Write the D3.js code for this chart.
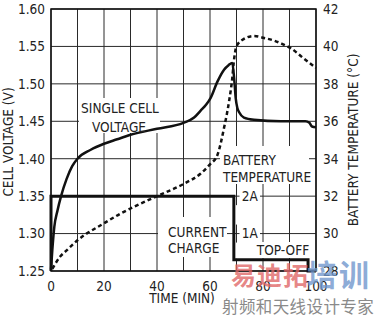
<!DOCTYPE html>
<html>
<head>
<meta charset="utf-8">
<script src="https://cdn.jsdelivr.net/npm/d3@7"></script>
<style>
  body { margin: 0; background: #fff; }
  svg { display: block; }
  text { font-family: "Liberation Sans Narrow", "Arial Narrow", "DejaVu Sans Condensed", sans-serif; font-size: 13.5px; fill: #222; }
  text.cjk { font-family: "Noto Sans CJK SC", sans-serif; }
</style>
</head>
<body>
<svg id="chart" width="377" height="318"></svg>
<script>
// cell voltage (V) vs time (min)
var voltTime = [0, 0.5, 1.25, 2.4, 3.8, 5.9, 8, 10, 15, 20, 25, 30, 40, 50, 54, 56.4, 58.5, 60.2, 62.8, 65.3, 67, 68.4, 69.1, 69.7, 70.3, 71, 72.8, 76.6, 86.7, 96, 97.5, 98.5, 100];
var voltage  = [1.252, 1.278, 1.309, 1.33, 1.35, 1.373, 1.39, 1.40, 1.412, 1.42, 1.426, 1.432, 1.44, 1.448, 1.455, 1.464, 1.472, 1.481, 1.503, 1.519, 1.525, 1.528, 1.508, 1.481, 1.468, 1.462, 1.455, 1.452, 1.45, 1.45, 1.448, 1.443, 1.442];

// battery temperature (°C) vs time (min)
var tempTime    = [0.5, 3.4, 5.9, 10, 20, 26, 30, 40, 50, 56.4, 60, 62.8, 65.3, 67.2, 68.4, 69, 70, 72.8, 76.6, 80.4, 84, 87, 90.5, 95, 100];
var temperature = [28.12, 28.76, 29.1, 29.64, 30.55, 31.05, 31.34, 32.0, 32.65, 33.2, 33.7, 34.2, 35.65, 37.07, 38.3, 39.2, 40.0, 40.4, 40.56, 40.45, 40.32, 40.15, 39.9, 39.4, 38.85];

// charge current (A) vs time (min)
var currentTime = [0, 0, 69, 69, 97, 97, 100];
var current     = [0, 2, 2, 0.3, 0.3, 0, 0];

var timeTicks = [0, 20, 40, 60, 80, 100];
var timeGrid = [0, 10, 20, 30, 40, 50, 60, 70, 80, 90, 100];
var voltTicks = [1.25, 1.30, 1.35, 1.40, 1.45, 1.50, 1.55, 1.60];
var tempTicks = [28, 30, 32, 34, 36, 38, 40, 42];
var currentTicks = [1, 2];

var svg = d3.select('#chart');

var x = d3.scaleLinear().domain([0, 100]).range([51, 316]);
var yVolt = d3.scaleLinear().domain([1.25, 1.60]).range([271, 9]);
var yTemp = d3.scaleLinear().domain([28, 42]).range([271, 9]);
var yCur = d3.scaleLinear().domain([0, 2]).range([271, yVolt(1.35)]);

var x0 = x(0), x1 = x(100), y0 = yVolt(1.25), y1 = yVolt(1.60);

// grid
var grid = svg.append('g').attr('stroke', '#2a2a2a').attr('stroke-width', 1);
grid.selectAll('line.v').data(timeGrid).enter().append('line')
  .attr('class', 'v')
  .attr('x1', function(d) { return x(d); })
  .attr('x2', function(d) { return x(d); })
  .attr('y1', y1).attr('y2', y0);
grid.selectAll('line.h').data(voltTicks).enter().append('line')
  .attr('class', 'h')
  .attr('x1', x0).attr('x2', x1)
  .attr('y1', function(d) { return yVolt(d); })
  .attr('y2', function(d) { return yVolt(d); });

// white boxes behind the notes (they break the grid)
var boxes = [
  [79, 98, 81, 35],
  [220, 146, 89, 38],
  [158, 217, 69, 40],
  [256, 242, 54, 16],
  [x(70) + 3, yCur(2) - 8, x(80) - x(70) - 6, 16],
  [x(70) + 3, yCur(1) - 8, x(80) - x(70) - 6, 16],
  [x(70) - 3, yCur(2) + 9, 6, yCur(1) - yCur(2) - 18],
  [x(70) - 3, yCur(1) + 9, 6, yCur(0.3) - yCur(1) - 10]
];
svg.selectAll('rect.box').data(boxes).enter().append('rect')
  .attr('class', 'box')
  .attr('x', function(d) { return d[0]; })
  .attr('y', function(d) { return d[1]; })
  .attr('width', function(d) { return d[2]; })
  .attr('height', function(d) { return d[3]; })
  .attr('fill', '#fff');

// current
var curLine = d3.line()
  .x(function(d, i) { return x(currentTime[i]); })
  .y(function(d) { return yCur(d); });
svg.append('path')
  .attr('d', curLine(current))
  .attr('fill', 'none')
  .attr('stroke', '#111')
  .attr('stroke-width', 3);

// temperature
var tempLine = d3.line()
  .x(function(d, i) { return x(tempTime[i]); })
  .y(function(d) { return yTemp(d); })
  .curve(d3.curveMonotoneX);
svg.append('path')
  .attr('d', tempLine(temperature))
  .attr('fill', 'none')
  .attr('stroke', '#111')
  .attr('stroke-width', 2.5)
  .attr('stroke-dasharray', '4,3');

// voltage
var voltLine = d3.line()
  .x(function(d, i) { return x(voltTime[i]); })
  .y(function(d) { return yVolt(d); })
  .curve(d3.curveMonotoneX);
svg.append('path')
  .attr('d', voltLine(voltage))
  .attr('fill', 'none')
  .attr('stroke', '#111')
  .attr('stroke-width', 2.5);

// frame
svg.append('rect')
  .attr('x', x0).attr('y', y1)
  .attr('width', x1 - x0).attr('height', y0 - y1)
  .attr('fill', 'none')
  .attr('stroke', '#111')
  .attr('stroke-width', 1.5);

// notes
var notes = [
  ['SINGLE CELL', 120, 113, 'middle'],
  ['VOLTAGE', 119, 131.5, 'middle'],
  ['BATTERY', 223, 165, 'start'],
  ['TEMPERATURE', 223, 181.5, 'start'],
  ['CURRENT', 168, 237, 'start'],
  ['CHARGE', 168, 253, 'start'],
  ['TOP-OFF', 283, 255, 'middle']
];
svg.selectAll('text.note').data(notes).enter().append('text')
  .attr('class', 'note')
  .attr('x', function(d) { return d[1]; })
  .attr('y', function(d) { return d[2]; })
  .attr('text-anchor', function(d) { return d[3]; })
  .text(function(d) { return d[0]; });

// current axis labels
svg.selectAll('text.cur').data(currentTicks).enter().append('text')
  .attr('class', 'cur')
  .attr('x', (x(70) + x(80)) / 2)
  .attr('y', function(d) { return yCur(d); })
  .attr('dy', '0.36em')
  .attr('text-anchor', 'middle')
  .text(function(d) { return d + 'A'; });

// axes labels
svg.selectAll('text.yl').data(voltTicks).enter().append('text')
  .attr('class', 'yl')
  .attr('x', 45)
  .attr('y', function(d) { return yVolt(d); })
  .attr('dy', '0.36em')
  .attr('text-anchor', 'end')
  .text(d3.format('.2f'));
svg.selectAll('text.yr').data(tempTicks).enter().append('text')
  .attr('class', 'yr')
  .attr('x', 323)
  .attr('y', function(d) { return yTemp(d); })
  .attr('dy', '0.36em')
  .text(function(d) { return d; });
svg.selectAll('text.xl').data(timeTicks).enter().append('text')
  .attr('class', 'xl')
  .attr('x', function(d) { return x(d); })
  .attr('y', 291)
  .attr('text-anchor', 'middle')
  .text(function(d) { return d; });

svg.append('text')
  .attr('x', 182).attr('y', 303)
  .attr('text-anchor', 'middle')
  .text('TIME (MIN)');
svg.append('text')
  .attr('transform', 'translate(13,142) rotate(-90)')
  .attr('text-anchor', 'middle')
  .text('CELL VOLTAGE (V)');
svg.append('text')
  .attr('transform', 'translate(358,140) rotate(-90)')
  .attr('text-anchor', 'middle')
  .text('BATTERY TEMPERATURE (°C)');

// watermark
var wm = svg.append('g');
wm.append('text')
  .attr('class', 'cjk')
  .attr('x', 231).attr('y', 285)
  .style('font-size', '25px').style('font-weight', 'bold')
  .style('letter-spacing', '1px')
  .style('fill', '#e06666').style('fill-opacity', 0.8)
  .text('易迪拓');
wm.append('text')
  .attr('class', 'cjk')
  .attr('x', 307).attr('y', 286)
  .style('font-size', '30px').style('font-weight', 'bold')
  .style('letter-spacing', '2px')
  .style('fill', '#6f96cc').style('fill-opacity', 0.8)
  .text('培训');
wm.append('text')
  .attr('class', 'cjk')
  .attr('x', 222).attr('y', 313)
  .style('font-size', '16.5px')
  .style('letter-spacing', '0.4px')
  .style('fill', '#8a8a8a')
  .text('射频和天线设计专家');
</script>
</body>
</html>
